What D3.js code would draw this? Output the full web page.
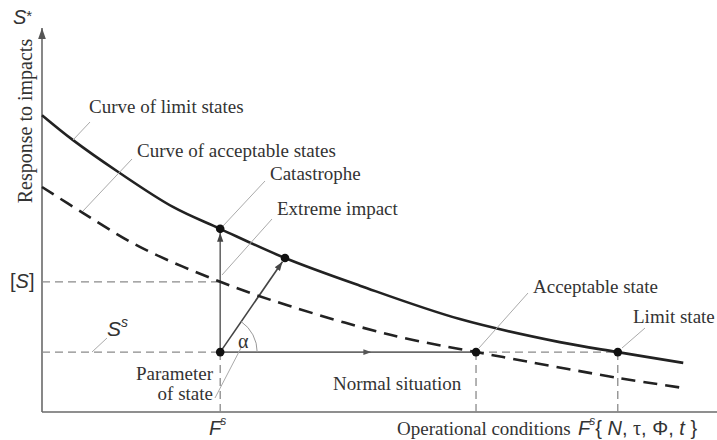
<!DOCTYPE html>
<html>
<head>
<meta charset="utf-8">
<script src="https://cdn.jsdelivr.net/npm/d3@7"></script>
<style>
  html, body { margin: 0; padding: 0; background: #fff; }
  svg { display: block; }
  .serif { font-family: "Liberation Serif", "Times New Roman", serif; fill: #333; }
  .sans  { font-family: "Liberation Sans", Arial, sans-serif; fill: #333; }
</style>
</head>
<body>
<script>
// Operational conditions (horizontal) and response to impacts (vertical), arbitrary units
const limitConditions  = [0, 4.6, 11.3, 19.4, 26.4, 36.0, 47.1, 61.9, 76.7, 85.3, 95.0];
const limitResponse    = [77.3, 70.8, 62.5, 53.4, 47.7, 40.1, 32.9, 24.2, 18.2, 15.6, 12.8];
const acceptConditions = [0, 6.1, 14.5, 26.4, 36.7, 51.6, 64.3, 68.3, 85.3, 95.0];
const acceptResponse   = [58.6, 51.8, 43.0, 33.9, 27.6, 20.1, 15.6, 14.3, 8.9, 6.25];

// Parameter of state (F^s, S^s), extreme impact point, and the derived states
const stateCondition = 26.4;   // F^s
const stateResponse = 15.6;    // S^s
const allowedResponse = 33.9;  // [S] on the acceptable curve at F^s
const catastropheResponse = 47.7; // limit curve at F^s
const extremePoint = [36.0, 40.1];
const acceptableStateCondition = 64.3;
const limitStateCondition = 85.3;

const W = 717, H = 440;
const x = d3.scaleLinear().domain([0, 100]).range([42, 717]);
const y = d3.scaleLinear().domain([0, 100]).range([412, 28]);

const svg = d3.select("body").append("svg").attr("width", W).attr("height", H);

const defs = svg.append("defs");
function marker(id, color, size) {
  defs.append("marker").attr("id", id)
    .attr("viewBox", "0 0 10 10").attr("refX", 10).attr("refY", 5)
    .attr("markerWidth", size).attr("markerHeight", size)
    .attr("markerUnits", "userSpaceOnUse")
    .attr("orient", "auto")
    .append("path").attr("d", "M0,1.5 L10,5 L0,8.5 Z").attr("fill", color);
}
marker("axisArrow", "#555", 11);
marker("vecArrow", "#444", 9);
marker("midArrow", "#555", 8);

const gray = "#6a6a6a", lightDash = "#8a8a8a", leaderColor = "#aaa";

// Axes
svg.append("line").attr("x1", x(0)).attr("y1", y(0)).attr("x2", x(100)).attr("y2", y(0))
  .attr("stroke", gray).attr("stroke-width", 1.6);
svg.append("line").attr("x1", x(0)).attr("y1", y(0)).attr("x2", x(0)).attr("y2", y(100))
  .attr("stroke", gray).attr("stroke-width", 1.6).attr("marker-end", "url(#axisArrow)");

// Thin dashed reference lines
function dashed(x1, y1, x2, y2) {
  svg.append("line").attr("x1", x1).attr("y1", y1).attr("x2", x2).attr("y2", y2)
    .attr("stroke", lightDash).attr("stroke-width", 1.3).attr("stroke-dasharray", "8,5");
}
dashed(x(0), y(allowedResponse), x(stateCondition), y(allowedResponse));
dashed(x(0), y(stateResponse), x(stateCondition), y(stateResponse));
dashed(x(stateCondition), y(stateResponse), x(stateCondition), y(0));
dashed(x(acceptableStateCondition), y(stateResponse), x(limitStateCondition), y(stateResponse));
dashed(x(acceptableStateCondition), y(stateResponse), x(acceptableStateCondition), y(0));
dashed(x(limitStateCondition), y(stateResponse), x(limitStateCondition), y(0));

// Normal situation: solid path with a mid arrow
svg.append("path")
  .attr("d", `M${x(stateCondition)},${y(stateResponse)} L${x(48.8)},${y(stateResponse)} L${x(acceptableStateCondition)},${y(stateResponse)}`)
  .attr("fill", "none").attr("stroke", gray).attr("stroke-width", 1.6)
  .attr("marker-mid", "url(#midArrow)");

// Vertical rise to catastrophe
svg.append("line")
  .attr("x1", x(stateCondition)).attr("y1", y(stateResponse))
  .attr("x2", x(stateCondition)).attr("y2", y(catastropheResponse) + 4)
  .attr("stroke", gray).attr("stroke-width", 1.6).attr("marker-end", "url(#vecArrow)");

// Extreme impact vector
{
  const x1 = x(stateCondition), y1 = y(stateResponse);
  const x2 = x(extremePoint[0]), y2 = y(extremePoint[1]);
  const len = Math.hypot(x2 - x1, y2 - y1);
  const ex = x2 - (x2 - x1) / len * 4.5, ey = y2 - (y2 - y1) / len * 4.5;
  svg.append("line").attr("x1", x1).attr("y1", y1).attr("x2", ex).attr("y2", ey)
    .attr("stroke", "#444").attr("stroke-width", 1.6).attr("marker-end", "url(#vecArrow)");

  // angle alpha
  const r = 37;
  const ang = Math.atan2(y1 - y2, x2 - x1);
  svg.append("path")
    .attr("d", `M${x1 + r},${y1} A${r},${r} 0 0 0 ${x1 + r * Math.cos(ang)},${y1 - r * Math.sin(ang)}`)
    .attr("fill", "none").attr("stroke", "#999").attr("stroke-width", 1);
}

// Curves
const line = d3.line().x(d => x(d[0])).y(d => y(d[1])).curve(d3.curveCatmullRom.alpha(0.5));
svg.append("path")
  .datum(limitConditions.map((c, i) => [c, limitResponse[i]]))
  .attr("d", line).attr("fill", "none").attr("stroke", "#222").attr("stroke-width", 2.6);
svg.append("path")
  .datum(acceptConditions.map((c, i) => [c, acceptResponse[i]]))
  .attr("d", line).attr("fill", "none").attr("stroke", "#222").attr("stroke-width", 2.6)
  .attr("stroke-dasharray", "14,8");

// Leader lines
const leaders = [
  [73, 140, 90, 122],
  [83, 211, 132, 159],
  [223, 226, 265, 181],
  [222, 275, 272, 219],
  [479, 348, 528, 293],
  [622, 348, 645, 328],
  [92, 352, 107, 338],
  [215, 398, 242, 346]
];
svg.selectAll("line.leader").data(leaders).join("line").attr("class", "leader")
  .attr("x1", d => d[0]).attr("y1", d => d[1]).attr("x2", d => d[2]).attr("y2", d => d[3])
  .attr("stroke", leaderColor).attr("stroke-width", 1);

// Points
const dots = [
  [stateCondition, stateResponse],
  [stateCondition, catastropheResponse],
  extremePoint,
  [acceptableStateCondition, stateResponse],
  [limitStateCondition, stateResponse]
];
svg.selectAll("circle.pt").data(dots).join("circle").attr("class", "pt")
  .attr("cx", d => x(d[0])).attr("cy", d => y(d[1])).attr("r", 4.3).attr("fill", "#111");

// Serif labels
const fs = 19;
const serifLabels = [
  ["Curve of limit states", 89, 113, "start"],
  ["Curve of acceptable states", 137, 157, "start"],
  ["Catastrophe", 270, 180, "start"],
  ["Extreme impact", 277, 215, "start"],
  ["Acceptable state", 533, 293, "start"],
  ["Limit state", 633, 323, "start"],
  ["Parameter", 213, 380, "end"],
  ["of state", 213, 400, "end"],
  ["Normal situation", 333, 390, "start"],
  ["Operational conditions", 397, 435, "start"]
];
svg.selectAll("text.lbl").data(serifLabels).join("text").attr("class", "lbl serif")
  .attr("x", d => d[1]).attr("y", d => d[2]).attr("text-anchor", d => d[3])
  .attr("font-size", fs).text(d => d[0]);

svg.append("text").attr("class", "serif").attr("font-size", 20)
  .attr("transform", "translate(32,121) rotate(-90)").attr("text-anchor", "middle")
  .text("Response to impacts");

svg.append("text").attr("class", "serif").attr("font-size", 20)
  .attr("x", 238).attr("y", 348).text("α");

// Math symbols
const sans = (xx, yy, size) => svg.append("text").attr("class", "sans")
  .attr("x", xx).attr("y", yy).attr("font-size", size);

let t = sans(13, 24, 20);
t.append("tspan").attr("font-style", "italic").text("S");
t.append("tspan").attr("font-size", 15).attr("dy", -3).text("*");

t = sans(10, 288, 20);
t.append("tspan").text("[");
t.append("tspan").attr("font-style", "italic").text("S");
t.append("tspan").text("]");

t = sans(107, 336, 21);
t.append("tspan").attr("font-style", "italic").text("S");
t.append("tspan").attr("font-style", "italic").attr("font-size", 14).attr("dy", -9).text("s");

t = sans(209, 435, 20);
t.append("tspan").attr("font-style", "italic").text("F");
t.append("tspan").attr("font-style", "italic").attr("font-size", 12).attr("dy", -10).attr("dx", -1).text("s");

t = sans(578, 435, 20);
t.append("tspan").attr("font-style", "italic").text("F");
t.append("tspan").attr("font-style", "italic").attr("font-size", 12).attr("dy", -10).attr("dx", -1).text("s");
t.append("tspan").attr("dy", 10).text("{ ");
t.append("tspan").attr("font-style", "italic").text("N");
t.append("tspan").text(", ");
t.append("tspan").attr("font-family", "Liberation Serif").text("τ");
t.append("tspan").text(", Φ, ");
t.append("tspan").attr("font-style", "italic").text("t");
t.append("tspan").text(" }");
</script>
</body>
</html>
